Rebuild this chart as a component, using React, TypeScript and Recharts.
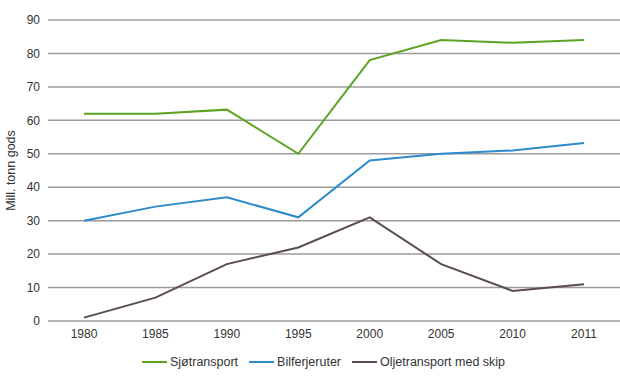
import { LineChart, Line, XAxis, YAxis, CartesianGrid } from 'recharts';

const years = ['1980', '1985', '1990', '1995', '2000', '2005', '2010', '2011'];
const sjotransport = [62, 62, 63.2, 50, 78, 84, 83.2, 84];
const bilferjeruter = [30, 34.2, 37, 31, 48, 50, 51, 53.2];
const oljetransport = [1, 7, 17, 22, 31, 17, 9, 11];
const yTicks = [0, 10, 20, 30, 40, 50, 60, 70, 80, 90];

const series = [
  { key: 'sjo', name: 'Sjøtransport', color: '#5ba321' },
  { key: 'bil', name: 'Bilferjeruter', color: '#2b8bcb' },
  { key: 'olje', name: 'Oljetransport med skip', color: '#5b4d4d' },
];

const data = years.map((year, i) => ({
  year,
  sjo: sjotransport[i],
  bil: bilferjeruter[i],
  olje: oljetransport[i],
}));

const font = '"Liberation Sans", Arial, sans-serif';

export default function App() {
  return (
    <div style={{ position: 'absolute', left: 0, top: 0, width: 620, height: 384, fontFamily: font }}>
      <LineChart width={620} height={384} data={data} margin={{ top: 20, right: 0, left: 0, bottom: 33 }}>
        <CartesianGrid vertical={false} stroke="#9b9b9b" strokeWidth={1.5} />
        <XAxis
          dataKey="year"
          axisLine={false}
          tickLine={false}
          height={30}
          padding={{ left: 36, right: 36 }}
          tick={{ fill: '#333', fontSize: 12, fontFamily: font }}
        />
        <YAxis
          domain={[0, 90]}
          ticks={yTicks}
          axisLine={false}
          tickLine={false}
          width={48}
          tick={{ fill: '#333', fontSize: 12, fontFamily: font }}
          label={{
            value: 'Mill. tonn gods',
            angle: -90,
            position: 'insideLeft',
            dx: 6,
            style: { textAnchor: 'middle', fill: '#333', fontSize: 12.5, fontFamily: font },
          }}
        />
        {series.map((s) => (
          <Line
            key={s.key}
            type="linear"
            dataKey={s.key}
            name={s.name}
            stroke={s.color}
            strokeWidth={2}
            dot={false}
            isAnimationActive={false}
          />
        ))}
      </LineChart>
      <div style={{ position: 'absolute', top: 355, left: 142, display: 'flex', fontSize: 12.5, color: '#333' }}>
        {series.map((s) => (
          <div key={s.key} style={{ display: 'flex', alignItems: 'center', marginRight: 11 }}>
            <span style={{ display: 'inline-block', width: 25, height: 2, background: s.color, marginRight: 3 }} />
            <span>{s.name}</span>
          </div>
        ))}
      </div>
    </div>
  );
}
